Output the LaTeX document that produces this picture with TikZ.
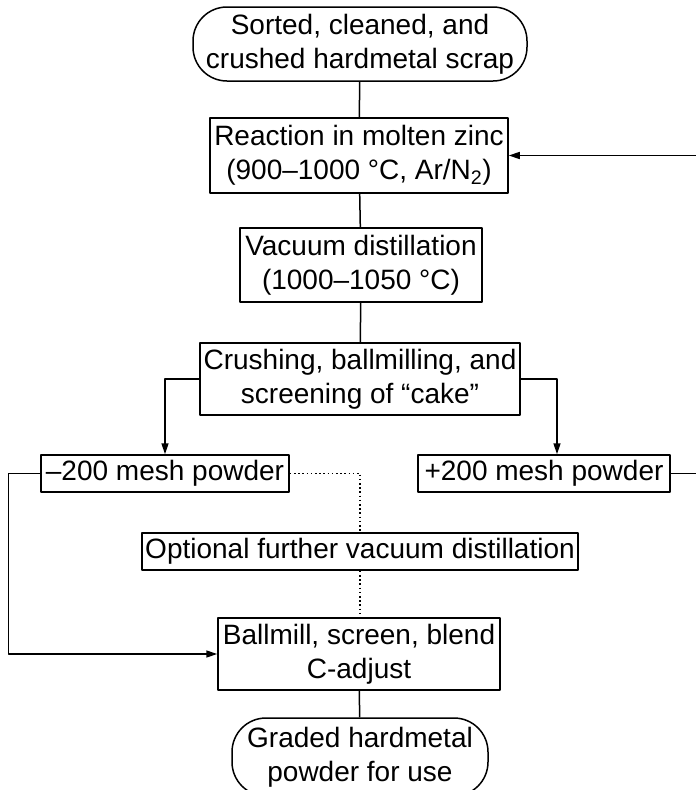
\documentclass[tikz,border=0pt]{standalone}
\usepackage{fontspec}
\setmainfont{Liberation Sans}
\usetikzlibrary{arrows.meta}

\tikzset{
  box/.style={draw, line width=1.5pt, align=center, inner sep=2pt},
  term/.style={box, rounded corners=34pt},
  flow/.style={line width=1.5pt, -{Triangle[length=11pt,width=7pt]}},
  link/.style={line width=1.5pt},
  optlink/.style={line width=1.5pt, dash pattern=on 1.6pt off 2.6pt}
}

\begin{document}
\begin{tikzpicture}[x=1pt, y=-1pt, font={\fontsize{28}{34}\selectfont}, line join=round]
  % Rahmen des Bildes
  \useasboundingbox (0,0) rectangle (696,790);
  \clip (0,0) rectangle (696,790);

  % Prozessschritte
  \node[term, minimum width=334pt, minimum height=74pt] (src) at (360,44)
    {Sorted, cleaned, and\\crushed hardmetal scrap};
  \node[box, minimum width=298pt, minimum height=75pt] (react) at (359,155.5)
    {Reaction in molten zinc\\(900--1000 °C, Ar/N\textsubscript{2})};
  \node[box, minimum width=242pt, minimum height=74pt] (vac) at (361,265)
    {Vacuum distillation\\(1000--1050 °C)};
  \node[box, minimum width=320pt, minimum height=72pt] (crush) at (360,379)
    {Crushing, ballmilling, and\\screening of “cake”};
  \node[box, minimum width=248pt, minimum height=37pt] (minus) at (165,473.5)
    {--200 mesh powder};
  \node[box, minimum width=252pt, minimum height=37pt] (plus) at (544,473.5)
    {+200 mesh powder};
  \node[box, minimum width=436pt, minimum height=37pt] (opt) at (360,551.5)
    {Optional further vacuum distillation};
  \node[box, minimum width=282pt, minimum height=72pt] (ball) at (359,654)
    {Ballmill, screen, blend\\C-adjust};
  \node[term, minimum width=256pt, minimum height=78pt] (graded) at (360,757)
    {Graded hardmetal\\powder for use};

  % Rueckfuehrung am rechten Rand
  \coordinate (retin) at (700,155.5);
  \coordinate (retout) at (700,473.5);

  % Verbindungen
  \draw[link] (src) -- (react);
  \draw[link] (react) -- (vac);
  \draw[link] (vac) -- (crush);
  \draw[flow] (crush.west) -| (minus.north);
  \draw[flow] (crush.east) -| ([xshift=13pt]plus.north);
  \draw[link] (plus.east) -- (retout);
  \draw[flow] (retin) -- (react.east);
  \draw[flow] (minus.west) -- ++(-32,0) |- (ball.west);
  \draw[optlink] (minus.east) -| (opt.north);
  \draw[optlink] (opt.south) -- (opt.south |- ball.north);
  \draw[link] (ball) -- (graded);
\end{tikzpicture}
\end{document}
